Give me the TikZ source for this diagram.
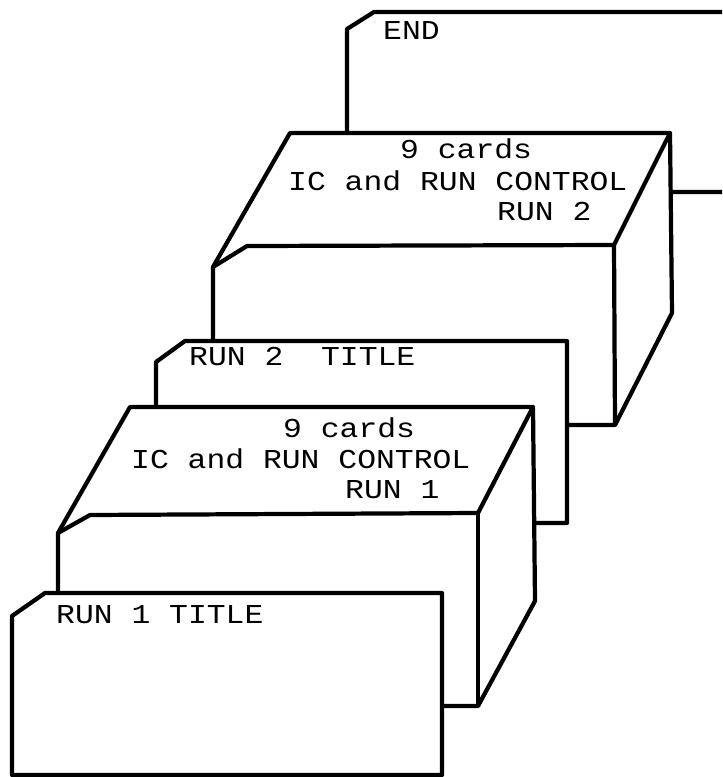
\documentclass[tikz,border=0pt]{standalone}
\usepackage{fontspec}
\usetikzlibrary{positioning}
\newfontfamily\cardfont[FakeStretch=1.15]{Liberation Mono}
\definecolor{cInk}{HTML}{000000}
\definecolor{cCard}{HTML}{FFFFFF}

\begin{document}
\begin{tikzpicture}[
    x=0.3mm, y=-0.3mm,
    % Card and deck outlines
    card/.style={draw=cInk, line width=3.6pt, fill=cCard, line join=round},
    edge/.style={draw=cInk, line width=3.6pt, line join=round},
    % Punched lettering
    cardtext/.style={anchor=base west, inner sep=0pt, text=cInk, font=\cardfont\fontsize{23.3pt}{26pt}\selectfont}
]

\useasboundingbox (0,0) rectangle (722,777);
\clip (0,0) rectangle (722,777);

% --- END CARD ---
\draw[card] (740,12) -- (374,12) -- (347,29) -- (347,192) -- (740,192);
\node[cardtext] (endtxt) at (383,40) {END};

% --- DECK RUN 2 ---
\draw[card] (290,133) -- (670,133) -- (672,313) -- (615,425) -- (213,425) -- (213,267) -- cycle;
\draw[edge] (213,267) -- (247,246) -- (614,245) -- (670,133);
\draw[edge] (614,245) -- (615,425);
\node[cardtext] (deckb1) at (400,158) {9 cards};
\node[cardtext] (deckb2) at (288,190) {IC and RUN CONTROL};
\node[cardtext] (deckb3) at (497,220) {RUN 2};

% --- TITLE CARD RUN 2 ---
\draw[card] (185,341) -- (567,341) -- (567,523) -- (156,523) -- (156,362) -- cycle;
\node[cardtext] (titleb) at (189,365) {RUN 2\ \ TITLE};

% --- DECK RUN 1 ---
\draw[card] (130,407) -- (533,407) -- (535,601) -- (478,706) -- (58,706) -- (58,533) -- cycle;
\draw[edge] (58,533) -- (90,515) -- (478,513) -- (533,407);
\draw[edge] (478,513) -- (478,706);
\node[cardtext] (decka1) at (283,437) {9 cards};
\node[cardtext] (decka2) at (131,468) {IC and RUN CONTROL};
\node[cardtext] (decka3) at (345,498) {RUN 1};

% --- TITLE CARD RUN 1 ---
\draw[card] (45,593) -- (442,593) -- (442,775) -- (12,775) -- (12,616) -- cycle;
\node[cardtext] (titlea) at (56,623) {RUN 1 TITLE};

\end{tikzpicture}
\end{document}
